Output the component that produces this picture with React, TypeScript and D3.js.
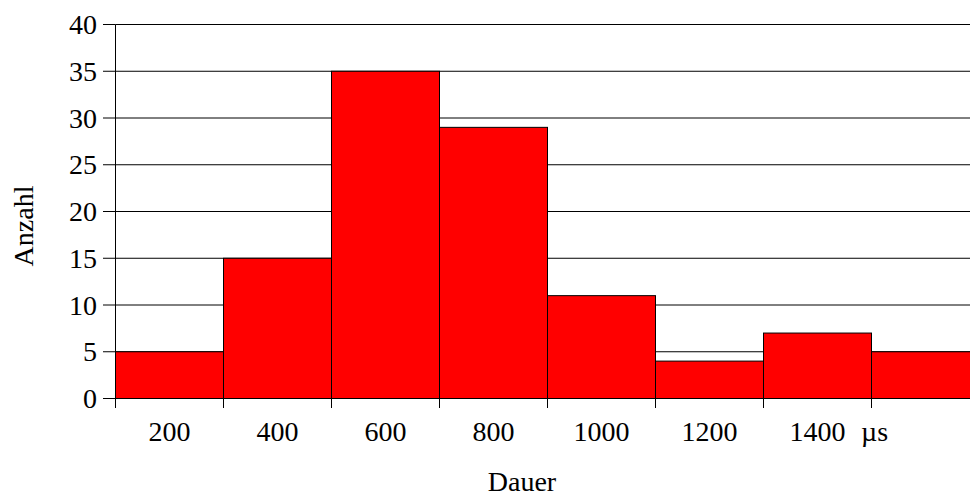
import React from "react";
import * as d3 from "d3";

const binLabels = ["200", "400", "600", "800", "1000", "1200", "1400", ""];
const counts = [5, 15, 35, 29, 11, 4, 7, 5];
const yTicks = [0, 5, 10, 15, 20, 25, 30, 35, 40];
const xTitle = "Dauer";
const yTitle = "Anzahl";
const unitLabel = "µs";

const W = 970;
const H = 497;
const FONT = "'Liberation Serif', 'Times New Roman', serif";
const FS = 28;

export default function App() {
  const left = 115.5;
  const binW = 108;
  const x = d3.scaleLinear().domain([0, counts.length]).range([left, left + binW * counts.length]);
  const y = d3.scaleLinear().domain([0, 40]).range([398.5, 24.5]);

  return (
    <svg
      width={W}
      height={H}
      style={{ position: "absolute", left: 0, top: 0, display: "block", background: "#fff" }}
      fontFamily={FONT}
    >
      <rect x={0} y={0} width={W} height={H} fill="#fff" />
      {yTicks.map((t) => (
        <line key={"g" + t} x1={left} x2={W} y1={y(t)} y2={y(t)} stroke="#000" strokeWidth={1} />
      ))}
      {counts.map((c, i) => (
        <rect
          key={"b" + i}
          x={x(i)}
          y={y(c)}
          width={x(i + 1) - x(i)}
          height={y(0) - y(c)}
          fill="#ff0000"
          stroke="#000"
          strokeWidth={1}
        />
      ))}
      <line x1={left} x2={left} y1={y(40)} y2={y(0)} stroke="#000" />
      {yTicks.map((t) => (
        <g key={"yt" + t}>
          <line x1={103} x2={left} y1={y(t)} y2={y(t)} stroke="#000" />
          <text x={97} y={y(t) + 9.5} textAnchor="end" fontSize={FS} fill="#000">
            {t}
          </text>
        </g>
      ))}
      <line x1={left} x2={W} y1={y(0)} y2={y(0)} stroke="#000" />
      {d3.range(counts.length + 1).map((i) => (
        <line key={"xt" + i} x1={x(i)} x2={x(i)} y1={y(0)} y2={408} stroke="#000" />
      ))}
      {binLabels.map((l, i) => (
        <text key={"xl" + i} x={(x(i) + x(i + 1)) / 2} y={441} textAnchor="middle" fontSize={FS} fill="#000">
          {l}
        </text>
      ))}
      <text x={861} y={441} fontSize={FS} fill="#000">
        {unitLabel}
      </text>
      <text x={522} y={491} textAnchor="middle" fontSize={FS} fill="#000">
        {xTitle}
      </text>
      <text transform="translate(33,226) rotate(-90)" textAnchor="middle" fontSize={FS} fill="#000">
        {yTitle}
      </text>
    </svg>
  );
}
